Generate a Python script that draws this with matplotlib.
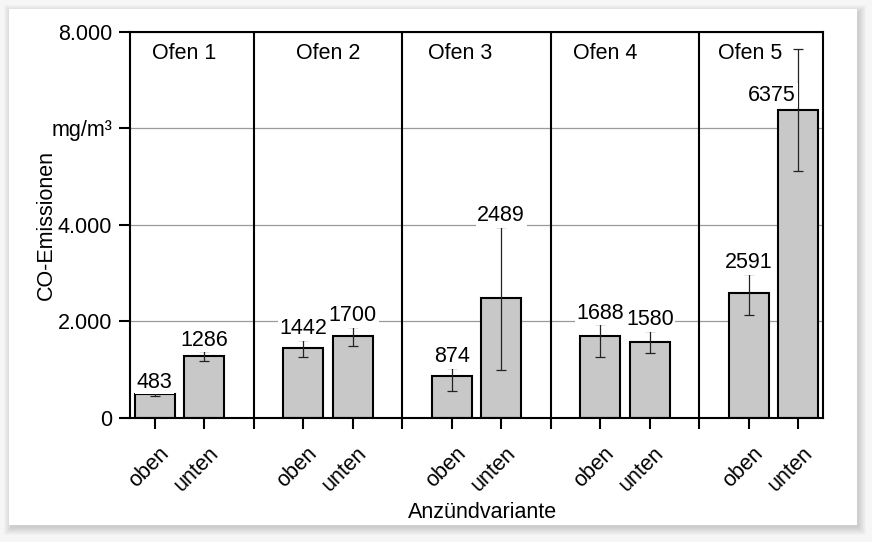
import numpy as np
import matplotlib.pyplot as plt
from matplotlib.patches import Rectangle
from matplotlib.transforms import ScaledTranslation

plt.rcParams['font.family'] = ['Liberation Sans', 'DejaVu Sans']
fs = 15.5

# daten
ofen = ['Ofen 1', 'Ofen 2', 'Ofen 3', 'Ofen 4', 'Ofen 5']
variante = ['oben', 'unten']
co_mittel = [483, 1286, 1442, 1700, 874, 2489, 1688, 1580, 2591, 6375]
fehler_plus = [25, 96, 170, 188, 163, 1473, 249, 218, 390, 1266]
fehler_minus = [30, 111, 176, 219, 320, 1493, 429, 238, 467, 1264]
y_ticks = [0, 2000, 4000, 6000, 8000]
y_ticklabels = ['0', '2.000', '4.000', 'mg/m³', '8.000']

# x-positionen: je ofen zwei balken, dazwischen eine luecke
x = []
for g in range(len(ofen)):
    for v in range(len(variante)):
        x.append(3 * g + v)
x = np.array(x)
trenner = [3 * g - 1 for g in range(1, len(ofen))]
titel_x = [0.59, 3.5, 6.17, 9.09, 12.03]
label_dx = [0] * 9 + [-0.53]   # 6375 steht links neben dem fehlerbalken

fig = plt.figure(figsize=(8.72, 5.42), dpi=100)
fig.patch.set_facecolor('#f6f6f6')

# karte mit schatten
cx0, cy0 = 9 / 872, 17 / 542
cw, ch = 848 / 872, 516 / 542
for i in range(8):
    e = i / 872
    fig.add_artist(Rectangle((cx0 + 2 / 872 - e, cy0 - 3 / 542 - i / 542), cw + 2 * e, ch + 2 * i / 542,
                             transform=fig.transFigure, fc='black', ec='none', alpha=0.018, zorder=-3))
fig.add_artist(Rectangle((cx0, cy0), cw, ch, transform=fig.transFigure,
                         fc='white', ec='none', zorder=-2))

ax = fig.add_axes([130 / 872, (542 - 417.7) / 542, 693 / 872, 385.7 / 542])
ax.set_zorder(1)
ax.set_facecolor('white')
ax.set_xlim(-0.5, 13.5)
ax.set_ylim(0, 8000)
ax.set_axisbelow(True)
ax.yaxis.grid(True, color='#9a9a9a', lw=0.9)

ax.bar(x, co_mittel, width=0.8, color='#c8c8c8', edgecolor='black', linewidth=1.5, zorder=2)
ax.errorbar(x, co_mittel, yerr=[fehler_minus, fehler_plus], fmt='none', ecolor='#222222',
            elinewidth=0.9, capsize=3.6, capthick=0.9, zorder=3)

for s in trenner:
    ax.axvline(s, color='black', lw=1.5, zorder=2.5)

for i, name in enumerate(ofen):
    ax.text(titel_x[i], 7430, name, ha='center', va='baseline', fontsize=fs)

for i, v in enumerate(co_mittel):
    if label_dx[i] == 0:
        yb, off = v + fehler_plus[i], 4
    else:
        yb, off = v, 7
    ax.annotate(str(v), (x[i] + label_dx[i], yb), xytext=(0, off), textcoords='offset points',
                ha='center', va='baseline', fontsize=fs, zorder=4,
                bbox=dict(boxstyle='square,pad=0.08', fc='white', ec='none'))

ax.set_xticks(x, variante * len(ofen))
ax.set_xticks(trenner, minor=True)
ax.tick_params(axis='x', which='both', length=8, width=1.5, labelsize=fs, pad=8)
verschub = ScaledTranslation(0.035, -0.03, fig.dpi_scale_trans)
for lab in ax.get_xticklabels():
    lab.set_rotation(45)
    lab.set_ha('right')
    lab.set_va('top')
    lab.set_rotation_mode('anchor')
    lab.set_transform(lab.get_transform() + verschub)

ax.set_yticks(y_ticks, y_ticklabels)
ax.tick_params(axis='y', length=8, width=1.5, labelsize=fs, pad=5)
for sp in ax.spines.values():
    sp.set_linewidth(1.5)

fig.text(46.5 / 872, (542 - 225) / 542, 'CO-Emissionen', rotation=90, ha='center', va='center', fontsize=fs)
fig.text(483 / 872, (542 - 518) / 542, 'Anzündvariante', ha='center', va='baseline', fontsize=fs)

fig.savefig('out.png', dpi=100)
